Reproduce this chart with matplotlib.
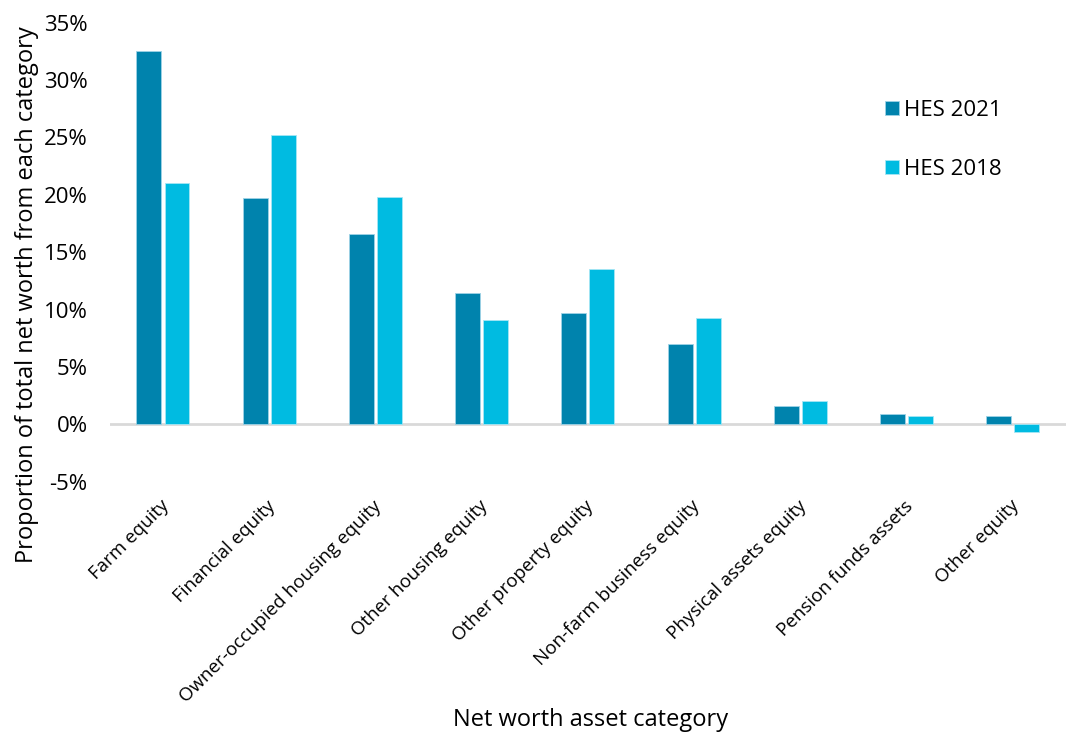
import matplotlib
matplotlib.use("Agg")
import matplotlib.pyplot as plt
import matplotlib.transforms as mtransforms
import numpy as np
from matplotlib.ticker import FuncFormatter

categories = ["Farm equity", "Financial equity", "Owner-occupied housing equity",
              "Other housing equity", "Other property equity", "Non-farm business equity",
              "Physical assets equity", "Pension funds assets", "Other equity"]
hes2021 = [32.5, 19.7, 16.6, 11.4, 9.7, 7.0, 1.55, 0.9, 0.75]
hes2018 = [21.0, 25.2, 19.8, 9.1, 13.5, 9.3, 2.05, 0.7, -0.65]
series_labels = ["HES 2021", "HES 2018"]
yticks = [-5, 0, 5, 10, 15, 20, 25, 30, 35]

plt.rcParams['font.family'] = ['Open Sans', 'DejaVu Sans']
c_dark = "#0083AD"
c_light = "#00BBE1"

fig = plt.figure(figsize=(10.66, 7.33), dpi=100)
ax = fig.add_axes([0.103, 0.343, 0.897, 0.626])

x = np.arange(len(categories))
w = 0.235
gap = 0.03
ax.bar(x - (w + gap) / 2, hes2021, w, color=c_dark, edgecolor="#9fd3e6", linewidth=0.6, label=series_labels[0], zorder=2)
ax.bar(x + (w + gap) / 2, hes2018, w, color=c_light, edgecolor="#a6e6f4", linewidth=0.6, label=series_labels[1], zorder=2)

ax.set_xlim(-0.5, len(categories) - 0.5)
ax.set_ylim(-5, 35)
ax.set_yticks(yticks)
ax.yaxis.set_major_formatter(FuncFormatter(lambda v, p: f"{int(v)}%"))
ax.axhline(0, color="#d9d9d9", linewidth=2, zorder=1)
for s in ax.spines.values():
    s.set_visible(False)
ax.tick_params(axis='y', length=0, labelsize=16, pad=16)
ax.tick_params(axis='x', length=0, labelsize=13.5, pad=11)
ax.set_xticks(x)
ax.set_xticklabels(categories, rotation=45, ha='right', rotation_mode='anchor')
offset = mtransforms.ScaledTranslation(-3 / 100, 0, fig.dpi_scale_trans)
for lbl in ax.get_xticklabels():
    lbl.set_transform(lbl.get_transform() + offset)

fig.text(27 / 1066, 1 - 295 / 733, "Proportion of total net worth from each category",
         rotation=90, ha='center', va='center', fontsize=17)
fig.text(591 / 1066, 1 - 720 / 733, "Net worth asset category", ha='center', va='center', fontsize=17)

ax.legend(loc='upper left', bbox_to_anchor=(0.79, 0.875), frameon=False, fontsize=16,
          handlelength=0.6, handleheight=0.6, labelspacing=1.7, handletextpad=0.25)

fig.savefig("out.png", dpi=100)
